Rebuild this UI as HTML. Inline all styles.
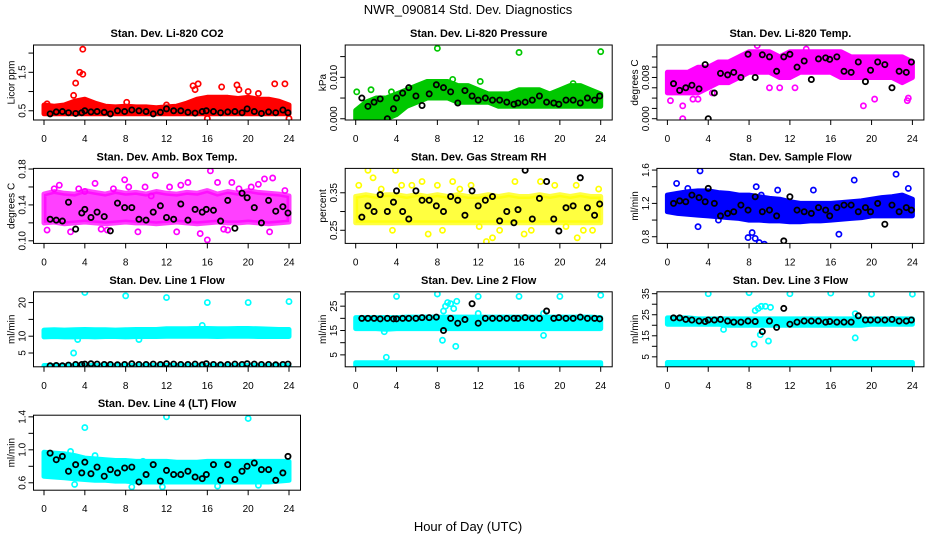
<!DOCTYPE html>
<html><head><meta charset="utf-8"><style>
body{margin:0;background:#fff;}
svg{display:block;font-family:"Liberation Sans",sans-serif;}
</style></head><body>
<svg id="chart" width="936" height="540" viewBox="0 0 936 540" xmlns="http://www.w3.org/2000/svg">
<rect width="936" height="540" fill="#fff"/>
<text x="468" y="14" text-anchor="middle" font-size="13">NWR_090814  Std. Dev. Diagnostics</text>
<text x="468" y="531" text-anchor="middle" font-size="13">Hour of Day (UTC)</text>
</svg>
<script>
const hours25 = [0,1,2,3,4,5,6,7,8,9,10,11,12,13,14,15,16,17,18,19,20,21,22,23,24];
const blackHours = [0.6,1.2,1.8,2.4,3.1,3.7,4.0,4.6,5.2,5.9,6.5,7.2,7.9,8.6,9.3,10.0,10.7,11.4,12.0,12.7,13.4,14.1,14.8,15.5,15.9,16.6,17.3,18.0,18.7,19.4,19.9,20.6,21.3,22.0,22.7,23.4,23.9];
const xTicks = [0,4,8,12,16,20,24];

const titles = ["Stan. Dev. Li-820 CO2","Stan. Dev. Li-820 Pressure","Stan. Dev. Li-820 Temp.","Stan. Dev. Amb. Box Temp.","Stan. Dev. Gas Stream RH","Stan. Dev. Sample Flow","Stan. Dev. Line 1 Flow","Stan. Dev. Line 2 Flow","Stan. Dev. Line 3 Flow","Stan. Dev. Line 4 (LT) Flow"];
const yUnits = ["Licor ppm","kPa","degrees C","degrees C","percent","ml/min","ml/min","ml/min","ml/min","ml/min"];
const colors = ["#ff0000","#00c800","#ff00ff","#ff00ff","#ffff00","#0000ff","#00ffff","#00ffff","#00ffff","#00ffff"];
const bandOpacity = [1,1,1,0.75,0.75,1,1,1,1,1];
const yRanges = [[0.26,2.21],[-0.0003,0.0178],[-0.00025,0.0143],[0.0971,0.1807],[0.215,0.415],[0.72,1.62],[0.9,23.2],[0.1,30.9],[0.26,35.9],[0.51,1.42]];
const yTicks = [[0.5,1,1.5,2],[0,0.005,0.01,0.015],[0,0.002,0.004,0.006,0.008,0.01,0.012],[0.1,0.12,0.14,0.16,0.18],[0.25,0.3,0.35],[0.8,1.0,1.2,1.4,1.6],[5,10,15,20],[5,10,15,20,25,30],[5,10,15,20,25,30,35],[0.6,0.8,1.0,1.2,1.4]];
const yTickLabels = [["0.5","","1.5",""],["0.000","","0.010",""],["0.000","","","","0.008","",""],["0.10","","0.14","","0.18"],["0.25","","0.35"],["0.8","","1.2","","1.6"],["5","10","","20"],["5","","15","","25",""],["5","","15","","25","","35"],["0.6","","1.0","","1.4"]];

const bandLow = [
 [[0.42,0.42,0.42,0.42,0.42,0.42,0.42,0.42,0.42,0.42,0.42,0.42,0.42,0.42,0.42,0.42,0.42,0.42,0.42,0.42,0.42,0.42,0.42,0.42,0.42]],
 [[0,0,0,0,0.001,0.003,0.004,0.005,0.005,0.005,0.004,0.004,0.004,0.004,0.003,0.003,0.003,0.003,0.003,0.003,0.003,0.003,0.003,0.003,0.003]],
 [[0.005,0.005,0.005,0.005,0.006,0.007,0.007,0.008,0.009,0.009,0.009,0.008,0.008,0.009,0.009,0.009,0.009,0.008,0.008,0.008,0.008,0.008,0.008,0.007,0.008]],
 [[0.12,0.121,0.119,0.12,0.121,0.12,0.119,0.12,0.121,0.12,0.12,0.119,0.12,0.121,0.12,0.119,0.12,0.121,0.12,0.12,0.121,0.12,0.119,0.12,0.121]],
 [[0.27,0.27,0.27,0.27,0.27,0.27,0.27,0.27,0.27,0.27,0.27,0.27,0.27,0.27,0.27,0.27,0.27,0.27,0.27,0.27,0.27,0.27,0.27,0.27,0.27]],
 [[1.1,1.08,1.07,1.06,1.05,1.04,1.03,1.02,1.0,1.0,0.99,0.99,0.98,0.98,0.99,0.99,1.0,1.01,1.02,1.03,1.05,1.05,1.05,1.05,1.05]],
 [[9.8,9.9,9.8,9.8,9.9,9.8,9.9,9.9,9.8,9.9,9.9,9.9,10,10,10,10,10,9.9,10,10,10,9.9,9.9,9.9,9.9],[0.8,0.8,0.8,0.8,0.8,0.8,0.8,0.8,0.8,0.8,0.8,0.8,0.8,0.8,0.8,0.8,0.8,0.8,0.8,0.8,0.8,0.8,0.8,0.8,0.8]],
 [[15.8,15.8,15.8,15.5,15.8,15.8,15.8,15.8,15.8,15.8,15.8,15.8,15.8,15.8,15.8,15.8,15.8,15.8,15.8,15.8,15.8,15.8,15.8,15.8,15.8],[0.5,0.5,0.5,0.5,0.5,0.5,0.5,0.5,0.5,0.5,0.5,0.5,0.5,0.5,0.5,0.5,0.5,0.5,0.5,0.5,0.5,0.5,0.5,0.5,0.5]],
 [[20.5,20.5,20.5,20.5,20.5,20.5,20,20,20,20,20,20,20,20,20,20,20,20,20,20,20.5,20.5,20.5,20.5,20.5],[0.8,0.8,0.8,0.8,0.8,0.8,0.8,0.8,0.8,0.8,0.8,0.8,0.8,0.8,0.8,0.8,0.8,0.8,0.8,0.8,0.8,0.8,0.8,0.8,0.8]],
 [[0.68,0.67,0.66,0.65,0.64,0.63,0.63,0.62,0.62,0.61,0.61,0.61,0.61,0.61,0.61,0.61,0.61,0.61,0.61,0.61,0.61,0.61,0.61,0.62,0.63]]
];
const bandHigh = [
 [[0.65,0.62,0.65,0.75,0.8,0.7,0.62,0.6,0.62,0.6,0.6,0.58,0.6,0.62,0.7,0.8,0.85,0.85,0.85,0.82,0.85,0.8,0.8,0.75,0.65]],
 [[0.002,0.004,0.005,0.005,0.006,0.007,0.008,0.009,0.009,0.009,0.008,0.008,0.007,0.006,0.006,0.006,0.007,0.007,0.007,0.006,0.007,0.008,0.008,0.007,0.006]],
 [[0.009,0.009,0.009,0.01,0.01,0.011,0.011,0.012,0.013,0.013,0.013,0.012,0.013,0.013,0.013,0.013,0.013,0.013,0.012,0.012,0.012,0.012,0.012,0.012,0.011]],
 [[0.152,0.155,0.153,0.152,0.156,0.154,0.152,0.155,0.153,0.154,0.152,0.155,0.153,0.152,0.154,0.153,0.156,0.152,0.155,0.153,0.156,0.154,0.153,0.152,0.15]],
 [[0.34,0.345,0.34,0.345,0.345,0.34,0.345,0.34,0.345,0.34,0.345,0.34,0.34,0.345,0.34,0.345,0.34,0.34,0.345,0.34,0.345,0.34,0.345,0.34,0.34]],
 [[1.3,1.32,1.34,1.35,1.35,1.33,1.32,1.3,1.3,1.28,1.26,1.25,1.22,1.2,1.2,1.2,1.2,1.21,1.22,1.23,1.25,1.27,1.28,1.3,1.25]],
 [[11.8,11.9,11.8,11.9,12,11.9,11.9,11.8,11.9,12,12,12,12.2,12.2,12.2,12.3,12.3,12.2,12.2,12.3,12.3,12.2,12.1,12,12],[1.3,1.3,1.3,1.3,1.3,1.3,1.3,1.3,1.3,1.3,1.3,1.3,1.3,1.3,1.3,1.3,1.3,1.3,1.3,1.3,1.3,1.3,1.3,1.3,1.3]],
 [[20.3,20.3,20.3,20.3,20.3,20.5,20.5,20.5,20.5,20.5,20.5,20.5,20.5,20.5,20.5,20.5,20.5,20.5,20.5,20.5,20.5,20.5,20.5,20.5,20.3],[1.8,1.8,1.8,1.8,1.8,1.8,1.8,1.8,1.8,1.8,1.8,1.8,1.8,1.8,1.8,1.8,1.8,1.8,1.8,1.8,1.8,1.8,1.8,1.8,1.8]],
 [[23.5,23.5,23.5,23,23,23,23,23,23,23,23,23,23,23,23,23,23,23,23,23,23,23,23,23,23],[2.3,2.3,2.3,2.3,2.3,2.3,2.3,2.3,2.3,2.3,2.3,2.3,2.3,2.3,2.3,2.3,2.3,2.3,2.3,2.3,2.3,2.3,2.3,2.3,2.3]],
 [[0.97,0.96,0.95,0.93,0.9,0.89,0.88,0.87,0.87,0.86,0.86,0.86,0.86,0.85,0.85,0.85,0.86,0.86,0.86,0.86,0.86,0.86,0.86,0.86,0.86]]
];
const outX = [
 [3.8,3.5,3.8,3.1,2.9,14.6,14.8,15.1,17.4,18.9,19.1,20.0,22.6,23.6,16.0,24.0,8.1,12.0,0.3,21.0],
 [8,16,24,0.1,1.5,12.2,21.3,3.5,9.5],
 [1.5,1.5,0.3,2.5,3.0,19.2,20.3,23.5,23.6,4.4,10.0,11.0,12.5,8.8,13.6],
 [0.3,1.5,2.6,3.4,4.0,5.0,6.2,6.8,7.9,8.3,9.2,10.5,10.9,12.3,13.4,14.1,15.3,16.0,16.3,17.0,18.4,19.1,20.3,21.6,22.4,23.6,22.1,13.0,18.0,1.0,5.6,9.9,17.6,21.0],
 [0.3,1.2,1.7,3.6,3.9,4.5,6.5,7.1,8.5,9.5,10.2,11.3,12.1,12.8,13.4,14.1,15.6,16.5,18.1,19.5,20.6,21.6,22.3,23.2,21.7,8.0,2.5,5.5,17.2,23.8],
 [0.9,3.0,3.2,7.9,8.3,8.6,9.0,9.5,10.8,8.7,14.3,16.8,18.3,22.4,23.6,9.2,2.0,5.0],
 [4,8,12,16,20,24,2.9,3.3,15.5,9.3],
 [4,8,12,16,20,24,3,8.5,8.6,8.8,9.0,9.3,9.6,9.8,9.9,12,18.4,18.4,2.8],
 [4,8,12,16,20,24,8.5,8.6,8.9,9.2,9.6,9.9,10.1,18.4,18.4,9.1,5.5],
 [4,12,20,8.6,11.6,17.0,21,3.0,0.5,2.6,5.0,9.7]
];
const outY = [
 [2.1,1.5,1.45,1.22,0.9,1.15,1.05,1.2,1.12,1.17,1.05,1.0,1.2,1.2,0.3,0.3,0.72,0.65,0.68,0.95],
 [0.017,0.016,0.0162,0.0065,0.007,0.009,0.0085,0.0065,0.0095],
 [0.0,0.0025,0.0035,0.0038,0.0038,0.0025,0.0038,0.0035,0.004,0.005,0.006,0.006,0.006,0.0142,0.0135],
 [0.112,0.162,0.11,0.158,0.155,0.164,0.112,0.158,0.168,0.16,0.11,0.15,0.173,0.16,0.162,0.165,0.108,0.101,0.178,0.165,0.165,0.158,0.16,0.169,0.17,0.156,0.11,0.11,0.112,0.158,0.113,0.16,0.113,0.163],
 [0.37,0.41,0.39,0.25,0.41,0.37,0.38,0.24,0.25,0.38,0.36,0.37,0.26,0.22,0.23,0.25,0.38,0.24,0.38,0.37,0.26,0.37,0.25,0.25,0.23,0.37,0.36,0.37,0.25,0.36],
 [1.44,0.92,1.59,0.79,0.85,0.78,0.73,0.71,1.36,1.4,1.36,0.83,1.48,1.55,1.38,1.3,1.38,1.0],
 [23,22,21.5,20,20,20.3,5,9,13.2,9],
 [29,30,29,29,29,29.5,4,11,23,25,26.5,26,24,8.5,27,22,22,13,14.5],
 [35,35.5,35,35.3,34.8,34.8,11,27,28,29,29,12.5,28.5,14,25.5,15.5,18],
 [1.27,1.4,1.38,0.55,0.55,0.56,0.57,0.58,0.7,0.98,0.93,0.86]
];
const blackVals = [
 [0.42,0.47,0.48,0.45,0.43,0.45,0.5,0.47,0.48,0.46,0.42,0.5,0.48,0.52,0.5,0.48,0.42,0.46,0.55,0.5,0.5,0.46,0.44,0.48,0.5,0.48,0.45,0.47,0.48,0.45,0.55,0.48,0.43,0.47,0.45,0.52,0.45],
 [0.005,0.003,0.004,0.0048,0.0,0.0024,0.005,0.0062,0.0075,0.0055,0.0032,0.006,0.0082,0.0075,0.0065,0.0038,0.0068,0.0055,0.0045,0.005,0.0045,0.0045,0.004,0.0035,0.0038,0.004,0.0045,0.0055,0.004,0.0038,0.0035,0.0045,0.0045,0.0038,0.005,0.0045,0.0055],
 [0.0068,0.0055,0.006,0.0065,0.0058,0.0105,0.0,0.005,0.0088,0.0085,0.009,0.008,0.0125,0.008,0.0124,0.012,0.0092,0.012,0.0125,0.01,0.0112,0.0076,0.0116,0.0118,0.0115,0.012,0.0092,0.009,0.011,0.0072,0.0094,0.011,0.0105,0.006,0.0092,0.009,0.011],
 [0.124,0.123,0.122,0.143,0.113,0.131,0.135,0.126,0.132,0.127,0.111,0.142,0.137,0.137,0.124,0.123,0.132,0.139,0.126,0.124,0.141,0.123,0.135,0.132,0.135,0.134,0.122,0.145,0.114,0.153,0.148,0.137,0.12,0.145,0.133,0.138,0.131],
 [0.285,0.315,0.3,0.345,0.3,0.325,0.355,0.3,0.28,0.355,0.33,0.33,0.315,0.3,0.34,0.33,0.29,0.355,0.315,0.33,0.34,0.275,0.3,0.27,0.305,0.41,0.28,0.335,0.38,0.28,0.248,0.31,0.315,0.39,0.31,0.29,0.32],
 [1.2,1.23,1.22,1.3,1.27,1.22,1.38,1.2,1.05,1.08,1.1,1.18,1.12,1.28,1.1,1.12,1.05,0.75,1.28,1.12,1.1,1.08,1.15,1.12,1.05,1.15,1.18,1.18,1.1,1.15,1.1,1.2,0.95,1.18,1.1,1.15,1.12],
 [1.2,1.3,1.2,1.4,1.6,1.6,1.7,1.8,1.7,1.6,1.6,1.5,1.6,1.8,1.6,1.6,1.7,1.6,1.8,1.7,1.6,1.6,1.7,1.5,1.8,1.6,1.5,1.6,1.7,1.6,1.8,1.7,1.6,1.6,1.5,1.6,1.7],
 [20,20,20,19.8,20,19.8,19.8,20,20,20,20.3,20.3,20.5,15,20,18,19.5,26,18,20,20,20,20,20,20,20.3,20,20,23,20,20.3,20,20,20.5,20,20,19.8],
 [23.5,23.5,22.8,22.5,22,21.8,22.5,22.5,22.8,22,21.5,21.5,22,21.8,17,22,19,28,20.5,21.5,22,22,22,21.5,21.8,21.5,21.5,21.5,24.5,22.5,22.5,22.5,22.5,22.8,22,22,22.5],
 [0.96,0.88,0.92,0.74,0.82,0.72,0.85,0.71,0.79,0.68,0.76,0.72,0.78,0.79,0.61,0.7,0.82,0.62,0.75,0.7,0.7,0.74,0.67,0.65,0.7,0.82,0.63,0.82,0.64,0.74,0.8,0.84,0.76,0.76,0.63,0.72,0.92]
];

const NS = "http://www.w3.org/2000/svg";
const svg = document.getElementById('chart');
function mk(tag, attrs, parent){ const e=document.createElementNS(NS,tag); for(const k in attrs) e.setAttribute(k,attrs[k]); (parent||svg).appendChild(e); return e; }

for(let p=0;p<10;p++){
  const col=p%3, row=Math.floor(p/3);
  const x0=44+311.7*col, x24=x0+245;
  const top=45+123.4*row, bot=top+75;
  const left=x0-10.5, right=x24+11.5;
  const [ymin,ymax]=yRanges[p];
  const sx=h=>x0+(h/24)*(x24-x0);
  const sy=v=>bot-(v-ymin)/(ymax-ymin)*(bot-top);
  const g=mk('g',{});
  
  
  const cp=mk('clipPath',{id:'cp'+p},g);
  mk('rect',{x:left,y:top,width:right-left,height:bot-top},cp);
  const t=mk('text',{x:(left+right)/2,y:top-8,'text-anchor':'middle','font-size':'11','font-weight':'bold'},g);
  t.textContent=titles[p];
  
  
  const plot=mk('g',{'clip-path':'url(#cp'+p+')'},g);
  
  
  for(let b=0;b<bandLow[p].length;b++){
    const lo=bandLow[p][b], hi=bandHigh[p][b];
    let d='';
    hours25.forEach((h,i)=>{d+=(i?'L':'M')+sx(h).toFixed(1)+','+sy(hi[i]).toFixed(1);});
    for(let i=hours25.length-1;i>=0;i--) d+='L'+sx(hours25[i]).toFixed(1)+','+sy(lo[i]).toFixed(1);
    d+='Z';
    const band=mk('path',{d:d,fill:colors[p],'fill-opacity':bandOpacity[p],stroke:colors[p],'stroke-opacity':bandOpacity[p],'stroke-width':'5','stroke-linejoin':'round'},plot);
    
    
  }
  outX[p].forEach((h,i)=>{
    const c=mk('circle',{cx:sx(h),cy:sy(outY[p][i]),r:2.6,fill:'none',stroke:colors[p],'stroke-width':1.7},plot);
    
    
  });
  blackVals[p].forEach((v,i)=>{
    const c=mk('circle',{cx:sx(blackHours[i]),cy:sy(v),r:2.6,fill:'none',stroke:'#000','stroke-width':1.8},plot);
    
    
  });
  const box=mk('rect',{x:left,y:top,width:right-left,height:bot-top,fill:'none',stroke:'#000','stroke-width':1},g);
  
  
  xTicks.forEach(h=>{
    mk('line',{x1:sx(h),y1:bot,x2:sx(h),y2:bot+5,stroke:'#000'},g);
    const tl=mk('text',{x:sx(h),y:bot+22,'text-anchor':'middle','font-size':'10'},g);
    tl.textContent=h;
    
    
  });
  yTicks[p].forEach((v,i)=>{
    const y=sy(v);
    mk('line',{x1:left,y1:y,x2:left-5,y2:y,stroke:'#000'},g);
    if(yTickLabels[p][i]){
      const lx=left-8;
      const tl=mk('text',{x:lx,y:y,'text-anchor':'middle','font-size':'10',transform:'rotate(-90 '+lx+' '+y+')'},g);
      tl.textContent=yTickLabels[p][i];
      
      
    }
  });
  const ym=(top+bot)/2, yx=left-19;
  const yt=mk('text',{x:yx,y:ym,'text-anchor':'middle','font-size':'10',transform:'rotate(-90 '+yx+' '+ym+')'},g);
  yt.textContent=yUnits[p];
  
  
}
</script>
</body></html>
